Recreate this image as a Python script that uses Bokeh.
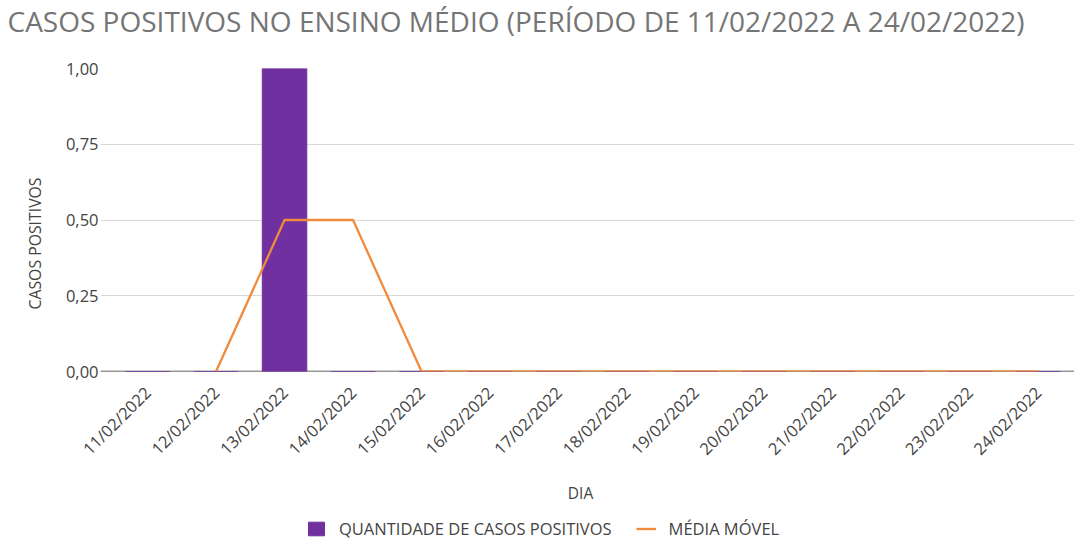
import math
from bokeh.plotting import figure
from bokeh.layouts import column
from bokeh.models import (Range1d, FixedTicker, Span, Legend, Title, Label,
                          LegendItem, ColumnDataSource)
from bokeh.embed import file_html
from bokeh.resources import INLINE

# ---- data ----
dias = ["11/02/2022", "12/02/2022", "13/02/2022", "14/02/2022", "15/02/2022",
        "16/02/2022", "17/02/2022", "18/02/2022", "19/02/2022", "20/02/2022",
        "21/02/2022", "22/02/2022", "23/02/2022", "24/02/2022"]
casos = [0, 0, 1, 0, 0, 0, 0, 0, 0, 0, 0, 0, 0, 0]
media_movel = [float("nan"), 0, 0.5, 0.5, 0, 0, 0, 0, 0, 0, 0, 0, 0, 0]
y_ticks = [0, 0.25, 0.5, 0.75, 1.0]
y_tick_labels = ["0,00", "0,25", "0,50", "0,75", "1,00"]

TITLE = "CASOS POSITIVOS NO ENSINO MÉDIO (PERÍODO DE 11/02/2022 A 24/02/2022)"
FONT = "Open Sans"
PURPLE = "#7030a0"
ORANGE = "#f28a3c"
TXT = "#444444"

idx = list(range(len(dias)))
src = ColumnDataSource(dict(i=idx, dia=dias, casos=casos, mm=media_movel))

W = 1074
TOP_H = 48
MAIN_H = 427
BOT_H = 65


def strip(h):
    f = figure(width=W, height=h, output_backend="svg", toolbar_location=None,
               x_range=Range1d(100, 101), y_range=Range1d(100, 101),
               x_axis_location=None, y_axis_location=None,
               min_border=0, outline_line_color=None, frame_align=False)
    f.grid.visible = False
    return f


# ---- title strip ----
top = strip(TOP_H)
top.add_layout(Label(x=7, y=28, x_units="screen", y_units="screen", text=TITLE,
                     text_font=FONT, text_font_size="28px", text_color="#757575",
                     text_baseline="alphabetic", text_align="left"))

# ---- main chart ----
p = figure(width=W, height=MAIN_H, output_backend="svg", toolbar_location=None,
           x_range=Range1d(-0.686, 13.53), y_range=Range1d(0, 1.0),
           min_border_left=100, min_border_right=0, min_border_top=20,
           min_border_bottom=104, frame_align=False)
p.outline_line_color = None
p.background_fill_color = "white"
p.border_fill_color = "white"

p.xgrid.grid_line_color = None
p.ygrid.grid_line_color = "#d9d9d9"
p.ygrid.grid_line_width = 1
p.yaxis.ticker = FixedTicker(ticks=y_ticks)
p.yaxis.major_label_overrides = {t: l for t, l in zip(y_ticks, y_tick_labels)}
p.xaxis.ticker = FixedTicker(ticks=idx)
p.xaxis.major_label_overrides = {i: d for i, d in zip(idx, dias)}

p.add_layout(Span(location=0, dimension="width", line_color="#333333",
                  line_width=1.5, level="underlay"))

bar_kw = dict(x="i", top="casos", width=0.65, source=src, fill_color=PURPLE,
              line_color=PURPLE, line_width=1)
line_kw = dict(x="i", y="mm", source=src, line_color=ORANGE, line_width=2.3)
p.vbar(**bar_kw)
p.line(**line_kw)

for ax in (p.xaxis, p.yaxis):
    ax.axis_line_color = None
    ax.major_tick_line_color = None
    ax.minor_tick_line_color = None
    ax.major_tick_out = 0
    ax.major_tick_in = 0
    ax.major_label_text_font = FONT
    ax.major_label_text_font_size = "16.5px"
    ax.major_label_text_color = TXT

p.xaxis.major_label_orientation = math.pi / 4
p.xaxis.major_label_standoff = 18
p.yaxis.major_label_standoff = 2

p.add_layout(Title(text="CASOS POSITIVOS", text_font=FONT, text_font_size="15.8px",
                   text_font_style="normal", text_color=TXT, align="left",
                   offset=62, standoff=34), "left")

# ---- bottom strip: axis title + legend (same glyphs, out of its empty view) ----
bot = strip(BOT_H)
bot.add_layout(Label(x=580, y=48, x_units="screen", y_units="screen", text="DIA",
                     text_font=FONT, text_font_size="15.5px", text_color=TXT,
                     text_baseline="middle", text_align="center"))
rb = bot.vbar(**bar_kw)
rl = bot.line(**line_kw)
legend = Legend(items=[LegendItem(label="QUANTIDADE DE CASOS POSITIVOS", renderers=[rb]),
                       LegendItem(label="MÉDIA MÓVEL", renderers=[rl])],
                orientation="horizontal", location=(306, 0),
                label_text_font=FONT, label_text_font_size="16.5px",
                label_text_color=TXT, border_line_color=None,
                background_fill_alpha=0,
                glyph_width=20, glyph_height=17, spacing=24, padding=0, margin=0,
                label_standoff=13)
bot.add_layout(legend)

open("out.html", "w").write(file_html(column(top, p, bot, spacing=0), INLINE))
